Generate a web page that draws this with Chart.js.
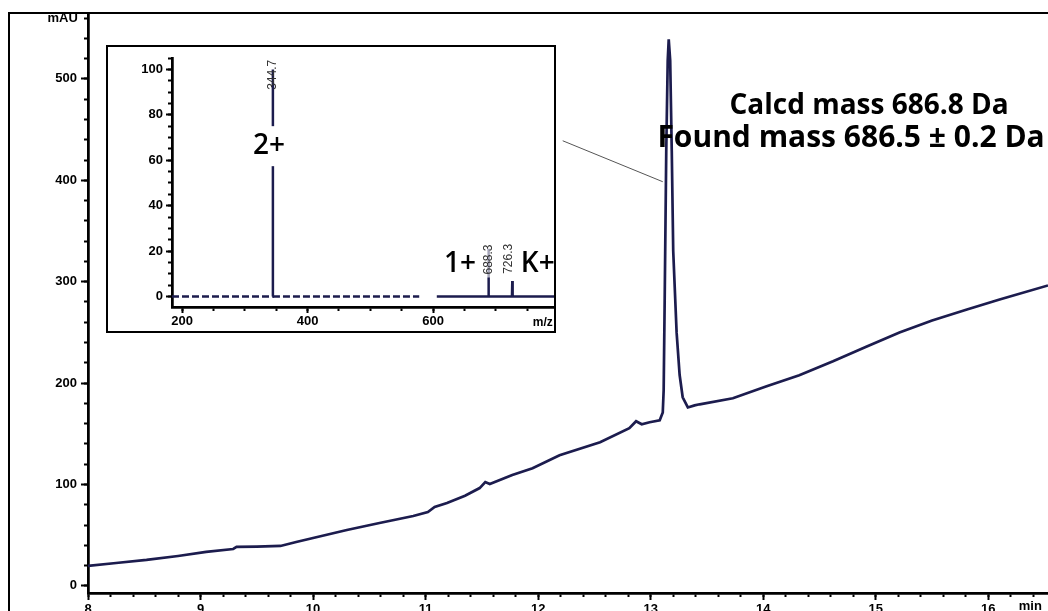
<!DOCTYPE html>
<html><head><meta charset="utf-8">
<script src="https://cdn.jsdelivr.net/npm/chart.js@4.4.0/dist/chart.umd.min.js"></script>
<style>
html,body{margin:0;padding:0;background:#fff;}
#wrap{position:relative;width:1048px;height:611px;overflow:hidden;background:#fff;}
#frame{position:absolute;left:8px;top:12px;right:0;bottom:0;border-left:2px solid #000;border-top:2px solid #000;}
#main{position:absolute;left:0;top:0;}
#insetBox{position:absolute;left:106px;top:45px;width:450px;height:288px;border:2px solid #000;box-sizing:border-box;background:#fff;}
#inset{position:absolute;left:0;top:0;}
</style>
</head>
<body>
<div id="wrap">
  <div id="frame"></div>
  <canvas id="main" width="1048" height="611"></canvas>
  <div id="insetBox"><canvas id="inset" width="446" height="284"></canvas></div>
</div>
<script>
// ---- Chromatogram (retention time in min, absorbance in mAU) ----
const retentionTime = [8.00, 8.25, 8.52, 8.80, 9.05, 9.29, 9.32, 9.50, 9.71, 9.85, 10.00, 10.30, 10.59, 10.89, 11.02, 11.08, 11.19, 11.35, 11.48, 11.53, 11.57, 11.77, 11.95, 12.19, 12.55, 12.81, 12.87, 12.92, 12.99, 13.08, 13.107, 13.115, 13.124, 13.138, 13.151, 13.16, 13.173, 13.187, 13.20, 13.23, 13.257, 13.284, 13.33, 13.39, 13.435, 13.73, 14.03, 14.32, 14.62, 14.92, 15.21, 15.50, 15.81, 16.10, 16.53];
const absorbance = [19.7, 22.6, 25.6, 29.5, 33.5, 36.4, 38.4, 38.8, 39.4, 43.3, 47.2, 55.1, 62.0, 68.9, 72.8, 77.8, 81.7, 89.0, 96.5, 102.4, 100.4, 109.3, 116.1, 128.9, 141.7, 155.5, 162.4, 159.4, 161.4, 163.4, 171, 193, 281, 429, 518, 539, 518, 429, 330, 250, 208, 186, 176, 178, 179.1, 185.0, 196.9, 207.7, 221.5, 236.2, 250.0, 261.8, 272.6, 282.5, 296.3];

// ---- Mass spectrum inset (m/z, relative intensity %) ----
const mzValues = [184, 344.5, 344.7, 344.9, 578, 606, 687.8, 688.3, 689.0, 725.8, 726.3, 726.9, 793];
const relIntensity = [0, 0, 100, 0, 0, 0, 0, 21, 0, 0, 6.8, 0, 0];
const mzTicks = [200, 400, 600];
const peakLabels = ['344.7', '688.3', '726.3'];

// ---- Texts ----
const mainTexts = ['Calcd mass 686.8 Da', 'Found mass 686.5 \u00B1 0.2 Da'];
const chargeLabels = ['2+', '1+', 'K+'];

const tickFont = {family: 'Liberation Sans', weight: 'bold', size: 13};
const ink = '#1c1c4e';

const textMarks = {
  id: 'textMarks',
  afterDatasetsDraw(chart, args, opts) {
    const ctx = chart.ctx;
    const xs = chart.scales.x, ys = chart.scales.y;
    (opts.items || []).forEach(it => {
      ctx.save();
      if (it.line) {
        ctx.beginPath();
        ctx.moveTo(xs.getPixelForValue(it.line[0]), ys.getPixelForValue(it.line[1]));
        ctx.lineTo(xs.getPixelForValue(it.line[2]), ys.getPixelForValue(it.line[3]));
        ctx.strokeStyle = it.color; ctx.lineWidth = it.width; ctx.stroke();
      } else {
        ctx.translate(xs.getPixelForValue(it.x), ys.getPixelForValue(it.y));
        if (it.rotate) ctx.rotate(it.rotate);
        ctx.font = it.font;
        ctx.textAlign = it.align || 'center';
        ctx.textBaseline = 'middle';
        if (it.bg) {
          const w = ctx.measureText(it.text).width;
          const h = it.bgH || 24;
          ctx.fillStyle = it.bg;
          const x0 = (it.align === 'left') ? 0 : -w / 2;
          ctx.fillRect(x0 - 3, -h / 2, w + 6, h);
        }
        ctx.fillStyle = it.color || '#000';
        ctx.fillText(it.text, 0, 0);
      }
      ctx.restore();
    });
  }
};

function axisPair(pos, min, max, major, minor, size, fontSize) {
  const horiz = pos === 'bottom';
  const majorAxis = {
    type: 'linear', position: pos, weight: 1, min, max,
    ticks: {stepSize: major, includeBounds: false, autoSkip: false, maxRotation: 0,
            font: Object.assign({}, tickFont, {size: fontSize}), color: '#000', padding: horiz ? 2 : 4},
    grid: {drawOnChartArea: false, tickLength: 7, tickWidth: 2, tickColor: '#000'},
    border: {color: '#000', width: 2.5},
    afterFit: s => { if (horiz) s.height = size; else s.width = size; }
  };
  const minorAxis = {
    type: 'linear', position: pos, weight: 0, min, max,
    ticks: {stepSize: minor, includeBounds: false, autoSkip: false, display: false},
    grid: {drawOnChartArea: false, tickLength: 4, tickWidth: 2, tickColor: '#000'},
    border: {color: '#000', width: 2.5},
    afterFit: s => { if (horiz) s.height = 0; else s.width = 0; }
  };
  return [majorAxis, minorAxis];
}

const [mx, mxMinor] = axisPair('bottom', 8, 16.53, 1, 0.2, 18, 13);
const [my, myMinor] = axisPair('left', -7, 565, 100, 20, 88, 13);

new Chart(document.getElementById('main'), {
  type: 'line',
  data: {datasets: [{
    data: retentionTime.map((t, i) => ({x: t, y: absorbance[i]})),
    borderColor: ink, borderWidth: 2.7, pointRadius: 0, tension: 0, fill: false
  }]},
  options: {
    responsive: false, animation: false, events: [],
    layout: {padding: {top: 13, left: 0, right: 0, bottom: 0}},
    plugins: {
      legend: {display: false}, tooltip: {enabled: false},
      textMarks: {items: [
        {line: [12.218, 439, 13.107, 398.6], color: '#555', width: 1},
        {text: mainTexts[0], x: 14.94, y: 473.4, font: 'bold 28px "Open Sans"'},
        {text: mainTexts[1], x: 14.78, y: 441, font: 'bold 30px "Open Sans"'},
        {text: 'mAU', x: 7.91, y: 560, align: 'right', font: 'bold 13px "Liberation Sans"'},
        {text: 'min', x: 16.27, y: -20.7, align: 'left', font: 'bold 13px "Liberation Sans"'}
      ]}
    },
    scales: {x: mx, xMinor: mxMinor, y: my, yMinor: myMinor}
  },
  plugins: [textMarks]
});

const [ix, ixMinor] = axisPair('bottom', 184, 792.8, 200, 50, 24, 13);
const [iy, iyMinor] = axisPair('left', -4.6, 105.1, 20, 5, 64, 13);
ix.grid.tickLength = 6; iy.grid.tickLength = 6;
ix.ticks.padding = 1; iy.ticks.padding = 3;
ix.afterBuildTicks = s => { s.ticks = mzTicks.map(v => ({value: v})); };

new Chart(document.getElementById('inset'), {
  type: 'line',
  data: {datasets: [{
    data: mzValues.map((m, i) => ({x: m, y: relIntensity[i]})),
    borderColor: ink, borderWidth: 2.5, pointRadius: 0, tension: 0, fill: false,
    segment: {
      borderDash: c => (c.p0.parsed.y === 0 && c.p1.parsed.y === 0 && c.p1.parsed.x <= 578) ? [7, 3] : undefined,
      borderColor: c => (c.p0.parsed.x === 578) ? 'rgba(0,0,0,0)' : undefined
    }
  }]},
  options: {
    responsive: false, animation: false, events: [],
    layout: {padding: 0},
    plugins: {
      legend: {display: false}, tooltip: {enabled: false},
      textMarks: {items: [
        {text: chargeLabels[0], x: 338.6, y: 66.2, font: '600 28px "Open Sans"', bg: '#fff', bgH: 40},
        {text: chargeLabels[1], x: 643, y: 14.3, font: '600 28px "Open Sans"'},
        {text: chargeLabels[2], x: 767, y: 14.3, font: '600 28px "Open Sans"'},
        {text: peakLabels[0], x: 344.7, y: 91, rotate: -Math.PI / 2, align: 'left', font: '12px "Liberation Sans"', color: '#333'},
        {text: peakLabels[1], x: 688.3, y: 9.7, rotate: -Math.PI / 2, align: 'left', font: '12px "Liberation Sans"', color: '#333', bg: 'rgba(255,255,255,0.6)', bgH: 10},
        {text: peakLabels[2], x: 721, y: 10, rotate: -Math.PI / 2, align: 'left', font: '12px "Liberation Sans"', color: '#333'},
        {text: 'm/z', x: 775, y: -11.4, font: 'bold 12px "Liberation Sans"'}
      ]}
    },
    scales: {x: ix, xMinor: ixMinor, y: iy, yMinor: iyMinor}
  },
  plugins: [textMarks]
});
</script>
</body></html>
